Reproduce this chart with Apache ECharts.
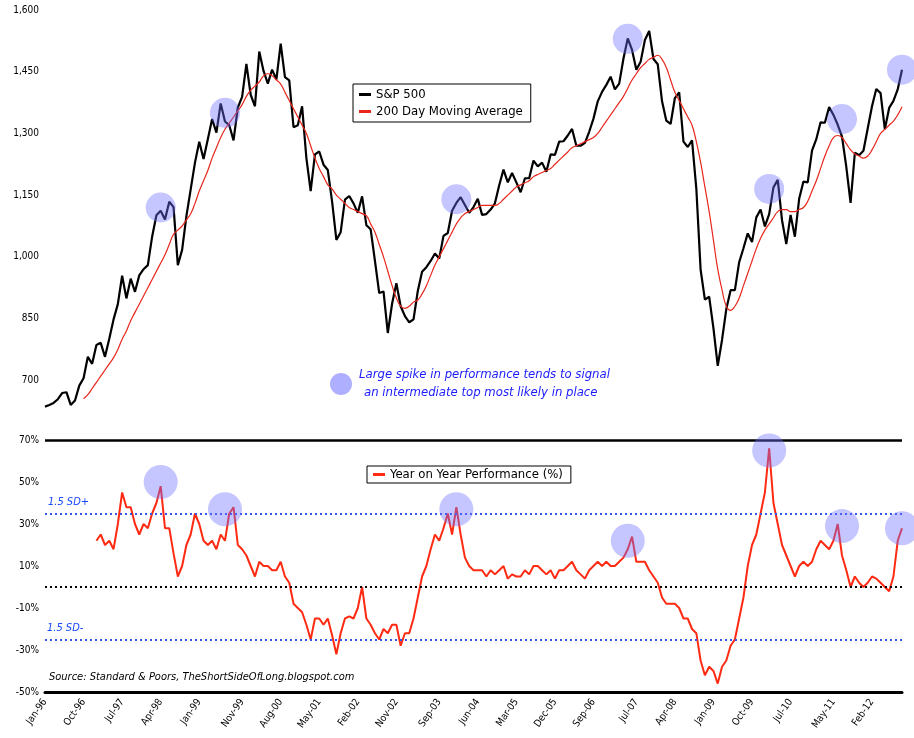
<!DOCTYPE html>
<html><head><meta charset="utf-8">
<script src="https://cdn.jsdelivr.net/npm/echarts@6/dist/echarts.min.js"></script>
<style>html,body{margin:0;padding:0;background:#fff}#c{width:914px;height:738px}</style>
</head><body><div id="c"></div>
<script>
const monthNames=['Jan','Feb','Mar','Apr','May','Jun','Jul','Aug','Sep','Oct','Nov','Dec'];
const categories=[];
for(let y=1996;y<=2012;y++){for(let m=0;m<12;m++){if(y===2012&&m>8)break;categories.push(monthNames[m]+'-'+String(y).slice(2));}}
const tickLabels=['Jan-96','Oct-96','Jul-97','Apr-98','Jan-99','Nov-99','Aug-00','May-01','Feb-02','Nov-02','Sep-03','Jun-04','Mar-05','Dec-05','Sep-06','Jul-07','Apr-08','Jan-09','Oct-09','Jul-10','May-11','Feb-12'];
const spx=[636,640,645,654,669,671,640,651,687,705,757,740,
786,791,757,801,848,885,954,899,947,915,955,970,
980,1049,1101,1112,1091,1134,1121,980,1017,1099,1164,1229,
1280,1238,1286,1335,1302,1373,1329,1320,1283,1363,1389,1469,
1394,1366,1499,1452,1421,1455,1431,1518,1437,1429,1315,1320,
1366,1240,1160,1249,1256,1224,1211,1134,1041,1060,1139,1148,
1130,1107,1147,1077,1067,990,912,916,815,886,936,880,
856,841,848,917,964,975,990,1008,996,1051,1058,1112,
1131,1145,1126,1107,1121,1141,1102,1104,1115,1130,1174,1212,
1181,1204,1181,1157,1191,1191,1234,1220,1229,1207,1249,1248,
1280,1281,1295,1311,1270,1270,1277,1304,1336,1378,1401,1418,
1438,1407,1421,1482,1531,1503,1455,1474,1527,1549,1481,1468,
1378,1331,1323,1386,1400,1280,1267,1283,1166,969,896,903,
826,735,798,873,919,919,987,1021,1057,1036,1096,1115,
1074,1104,1169,1187,1089,1031,1102,1049,1141,1183,1181,1258,
1286,1327,1326,1364,1345,1321,1292,1219,1131,1253,1247,1258,
1312,1366,1408,1398,1310,1362,1379,1407,1455];
const ma200=[null,null,null,null,null,null,null,null,null,655,665,680,
695,710,725,740,755,775,800,820,845,865,885,905,
925,945,965,985,1005,1030,1055,1065,1075,1090,1105,1130,
1160,1185,1210,1240,1265,1290,1310,1325,1340,1355,1370,1390,
1405,1415,1425,1440,1445,1440,1430,1420,1400,1380,1360,1340,
1320,1300,1270,1240,1215,1195,1175,1165,1150,1140,1130,1120,
1115,1110,1105,1100,1080,1060,1030,1000,965,930,900,880,
875,880,890,895,910,930,955,980,1000,1020,1040,1060,
1080,1095,1105,1110,1115,1120,1125,1125,1125,1125,1130,1140,
1150,1160,1170,1175,1180,1185,1195,1200,1205,1210,1215,1225,
1235,1245,1255,1265,1270,1275,1280,1285,1290,1300,1315,1330,
1345,1360,1375,1390,1410,1430,1445,1460,1470,1480,1485,1490,
1480,1460,1430,1400,1380,1360,1340,1320,1280,1230,1170,1110,
1040,970,920,880,870,880,900,930,960,990,1020,1045,
1065,1080,1095,1110,1115,1115,1110,1110,1115,1120,1135,1160,
1185,1215,1245,1270,1290,1295,1290,1275,1260,1250,1245,1240,
1245,1260,1280,1300,1310,1320,1330,1345,1365];
const yoy=[null,null,null,null,null,null,null,null,null,null,null,null,
22,25,20,22,18,30,45,38,38,30,25,30,
28,35,40,48,28,28,16,5,10,20,25,35,
30,22,20,22,18,25,22,35,38,20,18,15,
10,5,12,10,10,8,8,12,5,2,-8,-10,
-12,-18,-25,-15,-15,-18,-15,-23,-32,-22,-15,-14,
-15,-10,0,-15,-18,-22,-25,-20,-22,-18,-18,-28,
-22,-22,-15,-5,5,10,18,25,22,28,35,25,
38,25,14,10,8,8,8,5,8,6,8,10,
4,6,5,5,8,6,10,10,8,6,8,4,
8,8,10,12,8,6,4,8,10,12,10,12,
10,10,12,14,18,24,12,12,12,8,5,2,
-5,-8,-8,-8,-10,-15,-15,-20,-22,-35,-42,-38,
-40,-46,-38,-35,-28,-25,-15,-5,10,20,25,35,
45,66,40,30,20,15,10,5,10,12,10,12,
18,22,20,18,22,30,15,8,0,5,2,0,
2,5,4,2,0,-2,5,22,28];
const topCircles=[['Apr-98',1120],['Jul-99',1350],['Jan-04',1140],['May-07',1530],['Feb-10',1165],['Jul-11',1335],['Sep-12',1455]];
const botCircles=[['Apr-98',50],['Jul-99',37],['Jan-04',37],['May-07',22],['Feb-10',65],['Jul-11',29],['Sep-12',28]];
const upperSD=35, lowerSD=-25;
const F='DejaVu Sans Condensed';
const chart=echarts.init(document.getElementById('c'));
chart.setOption({
  animation:false,
  textStyle:{fontFamily:F},
  grid:[{left:45,right:12,top:10,height:432},{left:45,right:12,top:440,height:252}],
  legend:[
    {data:[{name:'S&P 500',itemStyle:{color:'#000'}},{name:'200 Day Moving Average',itemStyle:{color:'#e8261c'}}],orient:'vertical',left:353,top:84,
     borderColor:'#000',borderWidth:1,padding:[4,8,4,6],itemGap:4,itemWidth:12,itemHeight:3,icon:'rect',
     textStyle:{fontFamily:F,fontSize:13,color:'#000'}},
    {data:['Year on Year Performance (%)'],left:367,top:466,borderColor:'#000',borderWidth:1,icon:'rect',
     padding:[2,8,2,6],itemWidth:12,itemHeight:3,textStyle:{fontFamily:F,fontSize:13,color:'#000'}}
  ],
  xAxis:[
    {type:'category',gridIndex:0,data:categories,boundaryGap:false,axisLine:{show:false},axisTick:{show:false},axisLabel:{show:false}},
    {type:'category',gridIndex:1,data:categories,boundaryGap:false,
     axisLine:{show:true,onZero:false,lineStyle:{color:'#000',width:3}},axisTick:{show:false},
     axisLabel:{interval:(i,v)=>tickLabels.includes(v),rotate:55,fontSize:10,color:'#000',fontFamily:F,margin:8}}
  ],
  yAxis:[
    {type:'value',gridIndex:0,min:550,max:1600,interval:150,splitLine:{show:false},axisLine:{show:false},axisTick:{show:false},
     axisLabel:{fontSize:10,color:'#000',margin:6,formatter:v=>v===550?'':v.toLocaleString('en-US')}},
    {type:'value',gridIndex:1,min:-50,max:70,interval:20,splitLine:{show:false},axisLine:{show:false},axisTick:{show:false},
     axisLabel:{fontSize:10,color:'#000',margin:6,formatter:v=>v+'%'}}
  ],
  series:[
    {name:'S&P 500',type:'line',xAxisIndex:0,yAxisIndex:0,data:spx,showSymbol:false,lineStyle:{color:'#000',width:2.2},itemStyle:{color:'#000'},z:3},
    {name:'200 Day Moving Average',type:'line',xAxisIndex:0,yAxisIndex:0,data:ma200,showSymbol:false,smooth:true,lineStyle:{color:'#e8261c',width:1.2},itemStyle:{color:'#e8261c'},z:4},
    {name:'topCircles',type:'scatter',xAxisIndex:0,yAxisIndex:0,data:topCircles,symbolSize:30,itemStyle:{color:'rgba(110,110,255,0.5)'},z:5,silent:true},
    {name:'Year on Year Performance (%)',type:'line',xAxisIndex:1,yAxisIndex:1,data:yoy,showSymbol:false,lineStyle:{color:'#ff2a12',width:2},itemStyle:{color:'#ff2a12'},z:3,
     markLine:{silent:true,symbol:'none',label:{show:false},data:[
       {yAxis:upperSD,lineStyle:{color:'#3355ee',type:[2,3],width:2}},
       {yAxis:lowerSD,lineStyle:{color:'#3355ee',type:[2,3],width:2}},
       {yAxis:0,lineStyle:{color:'#000',type:[2,3],width:2}},
       {yAxis:70,lineStyle:{color:'#000',type:'solid',width:2.5}}]}},
    {name:'botCircles',type:'scatter',xAxisIndex:1,yAxisIndex:1,data:botCircles,symbolSize:34,itemStyle:{color:'rgba(110,110,255,0.5)'},z:5,silent:true}
  ],
  graphic:[
    {type:'circle',shape:{cx:341,cy:384,r:11},style:{fill:'rgba(110,110,255,0.55)'}},
    {type:'text',left:359,top:368,style:{text:'Large spike in performance tends to signal',fill:'#1a1aff',font:'italic 13px "DejaVu Sans Condensed"'}},
    {type:'text',left:364,top:386,style:{text:'an intermediate top most likely in place',fill:'#1a1aff',font:'italic 13px "DejaVu Sans Condensed"'}},
    {type:'text',left:48,top:497,style:{text:'1.5 SD+',fill:'#1a4aff',font:'italic 11px "DejaVu Sans Condensed"'}},
    {type:'text',left:47,top:623,style:{text:'1.5 SD-',fill:'#1a4aff',font:'italic 11px "DejaVu Sans Condensed"'}},
    {type:'text',left:49,top:672,style:{text:'Source: Standard & Poors, TheShortSideOfLong.blogspot.com',fill:'#000',font:'italic 11px "DejaVu Sans Condensed"'}}
  ]
});
</script></body></html>
